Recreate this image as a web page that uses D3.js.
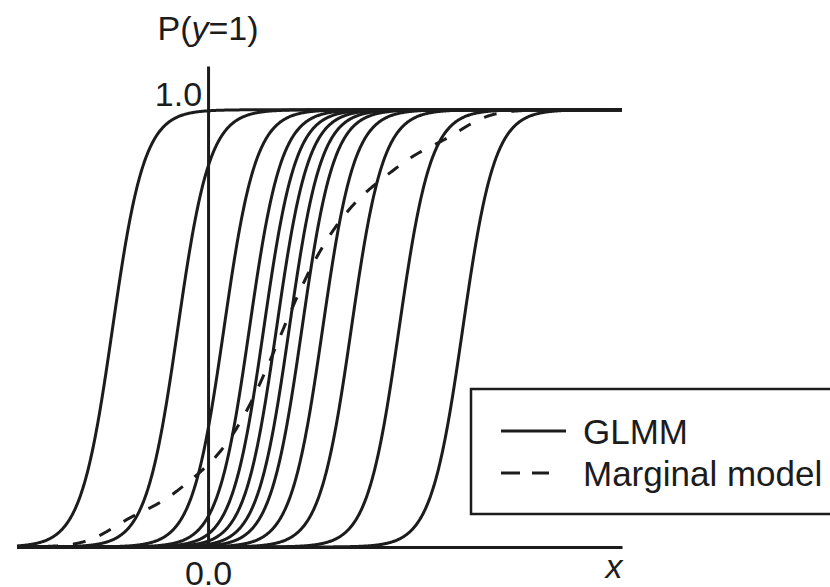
<!DOCTYPE html>
<html>
<head>
<meta charset="utf-8">
<script src="https://cdn.jsdelivr.net/npm/d3@7"></script>
<style>
  body { margin: 0; background: #fff; }
  text { font-family: "Liberation Sans", Arial, sans-serif; fill: #1c1c1c; }
</style>
</head>
<body>
<svg id="chart" width="830" height="587"></svg>
<script>
// random intercepts of the subject-specific (GLMM) curves
const intercepts = [6.0, 1.9, -1.0, -2.6, -3.5, -4.3, -5.1, -5.9, -7.2, -9.0, -12.0, -16.0];
const slope = 4;
const xDomain = [-3, 6.5];
const yTicks = [1.0];
const xTicks = [0.0];
const legendLabels = ["GLMM", "Marginal model"];

const svg = d3.select("#chart");
const ink = "#1c1c1c";

const x = d3.scaleLinear().domain(xDomain).range([17, 622]);
const y = d3.scaleLinear().domain([0, 1.1]).range([547, 66]);

const logistic = t => 1 / (1 + Math.exp(-t));
const grid = d3.range(xDomain[0], xDomain[1] + 0.001, 0.01);

const line = d3.line()
    .x(d => x(d[0]))
    .y(d => y(d[1]));

// GLMM curves
intercepts.forEach(a => {
    svg.append("path")
        .datum(grid.map(v => [v, logistic(a + slope * v)]))
        .attr("fill", "none")
        .attr("stroke", ink)
        .attr("stroke-width", 3)
        .attr("d", line);
});

// marginal (population-averaged) curve = average over the GLMM curves
svg.append("path")
    .datum(grid.map(v => [v, d3.mean(intercepts, a => logistic(a + slope * v))]))
    .attr("fill", "none")
    .attr("stroke", ink)
    .attr("stroke-width", 3)
    .attr("stroke-dasharray", "13,15")
    .attr("d", line);

// axes
const yAxis = svg.append("g")
    .attr("transform", `translate(${x(0)},0)`)
    .call(d3.axisLeft(y).tickValues(yTicks).tickFormat(d3.format(".1f"))
        .tickSize(0).tickSizeOuter(0).tickPadding(6));

const xAxis = svg.append("g")
    .attr("transform", `translate(0,${y(0)})`)
    .call(d3.axisBottom(x).tickValues(xTicks).tickFormat(d3.format(".1f"))
        .tickSize(0).tickSizeOuter(0).tickPadding(14));

[yAxis, xAxis].forEach(g => {
    g.select(".domain").attr("stroke", ink).attr("stroke-width", 3);
    g.selectAll("text")
        .style("font-family", "Liberation Sans, Arial, sans-serif")
        .attr("font-size", 34)
        .attr("fill", ink);
});
yAxis.selectAll("text").attr("dy", "-0.12em");

// axis titles
const yTitle = svg.append("text")
    .attr("x", x(0))
    .attr("y", 40)
    .attr("text-anchor", "middle")
    .attr("font-size", 34);
yTitle.append("tspan").text("P(");
yTitle.append("tspan").attr("font-style", "italic").text("y");
yTitle.append("tspan").text("=1)");

svg.append("text")
    .attr("x", 614)
    .attr("y", 578)
    .attr("text-anchor", "middle")
    .attr("font-size", 34)
    .attr("font-style", "italic")
    .text("x");

// legend
const legend = svg.append("g");
legend.append("rect")
    .attr("x", 471).attr("y", 389)
    .attr("width", 400).attr("height", 125)
    .attr("fill", "#fff")
    .attr("stroke", ink)
    .attr("stroke-width", 2.5);

legendLabels.forEach((lab, i) => {
    const ly = 431 + i * 42;
    legend.append("line")
        .attr("x1", 501).attr("x2", i === 0 ? 566 : 549)
        .attr("y1", ly).attr("y2", ly)
        .attr("stroke", ink)
        .attr("stroke-width", 3)
        .attr("stroke-dasharray", i === 0 ? null : "19,12");
    legend.append("text")
        .attr("x", 583)
        .attr("y", ly + 13)
        .attr("font-size", 35)
        .text(lab);
});
</script>
</body>
</html>
